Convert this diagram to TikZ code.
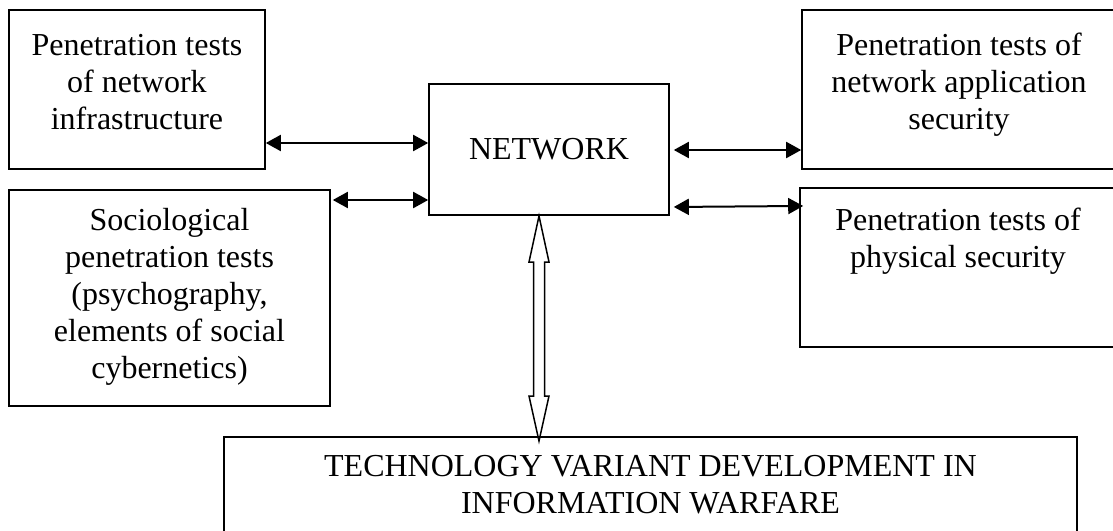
\documentclass[tikz,border=0pt]{standalone}
\usepackage{fontspec}
\setmainfont{Liberation Serif}
\usetikzlibrary{positioning,arrows.meta,calc}
\begin{document}
\begin{tikzpicture}[x=0.5pt,y=-0.5pt,box/.style={draw=black,line width=0.8pt,inner sep=0pt},txt/.style={align=center,inner sep=0pt,font=\fontsize{16pt}{18.5pt}\selectfont},biarr/.style={{Triangle[length=7.5pt,width=8pt]}-{Triangle[length=7.5pt,width=8pt]},line width=1pt}]
\useasboundingbox (0,0) rectangle (1113,530);
\clip (0,0) rectangle (1113,530);

\node[box,minimum width=128pt,minimum height=79.5pt] (infra) at (137,89.5) {};
\node[txt,below=12.6pt of infra.north] (infraT) {Penetration tests\\of network\\infrastructure};

\node[box,minimum width=160.5pt,minimum height=108pt] (soc) at (169.5,298) {};
\node[txt,below=9.1pt of soc.north] (socT) {Sociological\\penetration tests\\(psychography,\\elements of social\\cybernetics)};

\node[box,txt,draw,line width=0.8pt,minimum width=120pt,minimum height=65.5pt] (net) at (549,149.5) {NETWORK};

\node[box,minimum width=157pt,minimum height=79.5pt] (appsec) at (959,89.5) {};
\node[txt,below=11.6pt of appsec.north] (appsecT) {Penetration tests of\\network application\\security};

\node[box,minimum width=158pt,minimum height=79.5pt] (phys) at (958,267.5) {};
\node[txt,below=10.1pt of phys.north] (physT) {Penetration tests of\\physical security};

\node[box,minimum width=426.5pt,minimum height=55pt] (tech) at (650.5,492) {};
\node[txt,below=9.4pt of tech.north] (techT) {TECHNOLOGY VARIANT DEVELOPMENT IN\\INFORMATION WARFARE};

% links to the network
\draw[biarr] (infra.east |- 0,143) -- (net.west |- 0,143);
\draw[biarr,shorten <=1pt] (soc.east |- 0,200) -- (net.west |- 0,200);
\draw[biarr,shorten <=2pt] (net.east |- 0,150) -- (appsec.west |- 0,150);
\draw[biarr,shorten <=2pt,shorten >=-2pt] (net.east |- 0,207) -- (phys.west |- 0,206);

% hollow double arrow
\coordinate (hu) at (539,216);
\coordinate (hd) at (539,441);
\draw[line width=0.75pt] (hu) -- ($(hu)+(10,46)$) -- ($(hu)+(5.5,46)$) -- ($(hd)+(5.5,-45)$) -- ($(hd)+(10,-45)$) -- (hd) -- ($(hd)+(-10,-45)$) -- ($(hd)+(-5.5,-45)$) -- ($(hu)+(-5.5,46)$) -- ($(hu)+(-10,46)$) -- cycle;
\end{tikzpicture}
\end{document}
